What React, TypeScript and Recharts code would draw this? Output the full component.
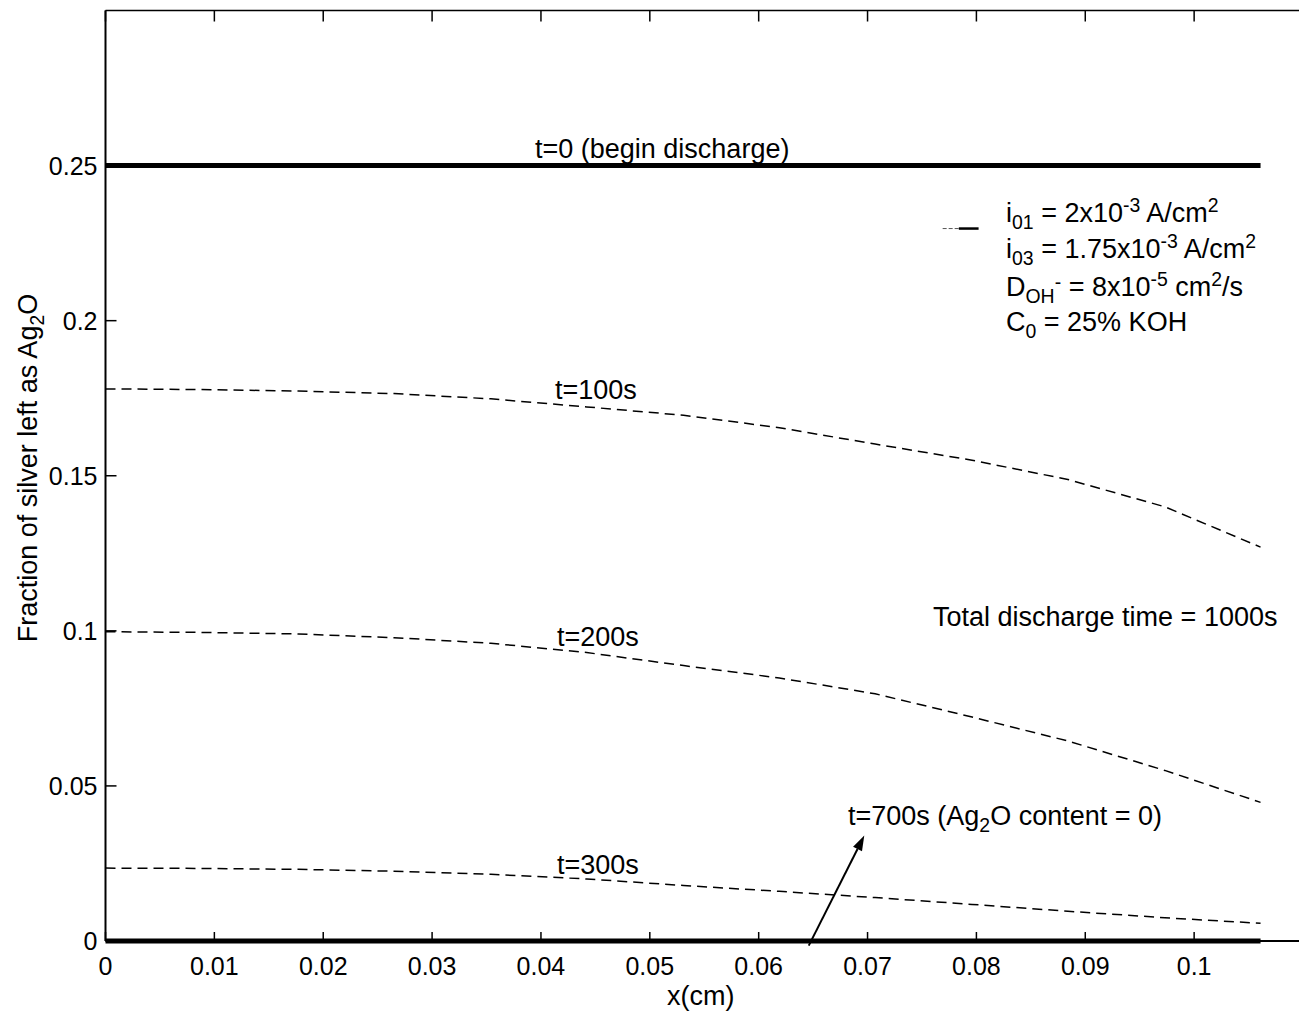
import React from "react";
import { LineChart, Line, XAxis, YAxis, ReferenceLine } from "recharts";

// x positions of the computed profiles (cm)
const xCm = [0, 0.0088, 0.0177, 0.0265, 0.0354, 0.0442, 0.0531, 0.0619, 0.0707, 0.0796, 0.0884, 0.0973, 0.1061];

// fraction of silver left as Ag2O at each time
const t0Begin = [0.25, 0.25, 0.25, 0.25, 0.25, 0.25, 0.25, 0.25, 0.25, 0.25, 0.25, 0.25, 0.25];
const t100s = [0.178, 0.1778, 0.1773, 0.1765, 0.1748, 0.1722, 0.1695, 0.1655, 0.1602, 0.155, 0.1488, 0.14, 0.127];
const t200s = [0.0997, 0.0995, 0.099, 0.0978, 0.096, 0.093, 0.0888, 0.0848, 0.0797, 0.0722, 0.0645, 0.055, 0.0447];
const t300s = [0.0235, 0.0234, 0.0231, 0.0225, 0.0215, 0.02, 0.0179, 0.016, 0.014, 0.0118, 0.0096, 0.0075, 0.0057];
const t700s = [0, 0, 0, 0, 0, 0, 0, 0, 0, 0, 0, 0, 0];

const xTicks = [0, 0.01, 0.02, 0.03, 0.04, 0.05, 0.06, 0.07, 0.08, 0.09, 0.1];
const yTicks = [0, 0.05, 0.1, 0.15, 0.2, 0.25];

// annotation arrow (data coords) pointing at the t=700s label
const arrow700 = [
  { x: 0.0646, y: -0.0015 },
  { x: 0.0697, y: 0.034 },
];
const paramPointer = [
  { x: 0.0769, y: 0.2297 },
  { x: 0.0802, y: 0.2297 },
];

const data = xCm.map((x, i) => ({
  x,
  t0: t0Begin[i],
  t100: t100s[i],
  t200: t200s[i],
  t300: t300s[i],
  t700: t700s[i],
}));

const FONT = "'Liberation Sans', Arial, Helvetica, sans-serif";
const fmt = (v: number) => String(Number(v.toFixed(2)));

function BottomTick({ x, y, payload }: any) {
  return (
    <g>
      <line x1={x} x2={x} y1={y} y2={y - 9} stroke="#000" strokeWidth={1.5} />
      <text x={x} y={y + 34} textAnchor="middle" fontSize={25} fontFamily={FONT} fill="#000">
        {fmt(payload.value)}
      </text>
    </g>
  );
}

function TopTick({ x, y }: any) {
  return <line x1={x} x2={x} y1={y} y2={y + 11} stroke="#000" strokeWidth={1.5} />;
}

function LeftTick({ x, y, payload }: any) {
  return (
    <g>
      <line x1={x} x2={x + 11} y1={y} y2={y} stroke="#000" strokeWidth={1.5} />
      <text x={x - 8} y={y + 9} textAnchor="end" fontSize={25} fontFamily={FONT} fill="#000">
        {fmt(payload.value)}
      </text>
    </g>
  );
}

function RightTick({ x, y }: any) {
  return <line x1={x} x2={x - 11} y1={y} y2={y} stroke="#000" strokeWidth={1.5} />;
}

function ArrowShape({ x1, y1, x2, y2 }: any) {
  const dx = x2 - x1;
  const dy = y2 - y1;
  const len = Math.sqrt(dx * dx + dy * dy) || 1;
  const ux = dx / len;
  const uy = dy / len;
  const head = 15;
  const half = 5;
  const bx = x2 - ux * head;
  const by = y2 - uy * head;
  return (
    <g>
      <line x1={x1} y1={y1} x2={bx} y2={by} stroke="#000" strokeWidth={2} />
      <polygon
        points={`${x2},${y2} ${bx - uy * half},${by + ux * half} ${bx + uy * half},${by - ux * half}`}
        fill="#000"
      />
    </g>
  );
}

function PointerShape({ x1, y1, x2, y2 }: any) {
  const mid = x1 + (x2 - x1) * 0.45;
  return (
    <g>
      <line x1={x1} y1={y1} x2={mid} y2={y2} stroke="#555" strokeWidth={1} strokeDasharray="4 2" />
      <line x1={mid} y1={y1} x2={x2} y2={y2} stroke="#000" strokeWidth={2.5} />
    </g>
  );
}

const Sub = ({ children }: { children: React.ReactNode }) => (
  <span style={{ fontSize: "0.72em", position: "relative", top: "0.35em" }}>{children}</span>
);
const Sup = ({ children }: { children: React.ReactNode }) => (
  <span style={{ fontSize: "0.72em", position: "relative", top: "-0.5em" }}>{children}</span>
);

function Note({ x, base, size = 27, children }: { x: number; base: number; size?: number; children: React.ReactNode }) {
  return (
    <div
      style={{
        position: "absolute",
        left: x,
        top: base - 0.8465 * size,
        fontSize: size,
        lineHeight: `${size}px`,
        fontFamily: FONT,
        whiteSpace: "nowrap",
        color: "#000",
      }}
    >
      {children}
    </div>
  );
}

export default function App() {
  return (
    <div
      style={{
        position: "absolute",
        left: 0,
        top: 0,
        width: 1299,
        height: 1016,
        overflow: "hidden",
        background: "#fff",
      }}
    >
      <LineChart width={1320} height={1016} data={data} margin={{ top: 0.5, right: 7, bottom: 0, left: 5.5 }}>
        <XAxis
          dataKey="x"
          type="number"
          domain={[0, 0.11]}
          ticks={xTicks}
          tickSize={0}
          tickMargin={0}
          tickLine={false}
          tick={BottomTick}
          height={75}
          axisLine={{ stroke: "#000", strokeWidth: 2 }}
        />
        <XAxis
          xAxisId="top"
          orientation="top"
          dataKey="x"
          type="number"
          domain={[0, 0.11]}
          ticks={xTicks}
          tickSize={0}
          tickMargin={0}
          tickLine={false}
          tick={TopTick}
          height={10}
          axisLine={{ stroke: "#000", strokeWidth: 1.5 }}
        />
        <YAxis
          type="number"
          domain={[0, 0.3]}
          ticks={yTicks}
          tickSize={0}
          tickMargin={0}
          tickLine={false}
          tick={LeftTick}
          width={100}
          axisLine={{ stroke: "#000", strokeWidth: 2 }}
        />
        <YAxis
          yAxisId="right"
          orientation="right"
          type="number"
          domain={[0, 0.3]}
          ticks={yTicks}
          tickSize={0}
          tickMargin={0}
          tickLine={false}
          tick={RightTick}
          width={10}
          axisLine={{ stroke: "#000", strokeWidth: 1.5 }}
        />
        <Line dataKey="t0" type="linear" stroke="#000" strokeWidth={5} dot={false} isAnimationActive={false} />
        <Line dataKey="t100" type="linear" stroke="#000" strokeWidth={1.5} strokeDasharray="10 6" dot={false} isAnimationActive={false} />
        <Line dataKey="t200" type="linear" stroke="#000" strokeWidth={1.5} strokeDasharray="10 6" dot={false} isAnimationActive={false} />
        <Line dataKey="t300" type="linear" stroke="#000" strokeWidth={1.5} strokeDasharray="10 6" dot={false} isAnimationActive={false} />
        <Line dataKey="t700" type="linear" stroke="#000" strokeWidth={5} dot={false} isAnimationActive={false} />
        <ReferenceLine segment={arrow700} ifOverflow="visible" shape={ArrowShape} />
        <ReferenceLine segment={paramPointer} ifOverflow="visible" shape={PointerShape} />
      </LineChart>

      <Note x={535} base={159}>t=0 (begin discharge)</Note>
      <Note x={555} base={400}>t=100s</Note>
      <Note x={557} base={647}>t=200s</Note>
      <Note x={557} base={875}>t=300s</Note>
      <Note x={848} base={826}>
        t=700s (Ag<Sub>2</Sub>O content = 0)
      </Note>
      <Note x={933} base={627}>Total discharge time = 1000s</Note>

      <Note x={1006} base={223}>
        i<Sub>01</Sub> = 2x10<Sup>-3</Sup> A/cm<Sup>2</Sup>
      </Note>
      <Note x={1006} base={259}>
        i<Sub>03</Sub> = 1.75x10<Sup>-3</Sup> A/cm<Sup>2</Sup>
      </Note>
      <Note x={1006} base={297}>
        D
        <Sub>
          OH<span style={{ position: "relative", top: "-0.7em" }}>-</span>
        </Sub>{" "}
        = 8x10<Sup>-5</Sup> cm<Sup>2</Sup>/s
      </Note>
      <Note x={1006} base={332}>
        C<Sub>0</Sub> = 25% KOH
      </Note>

      <Note x={667} base={1006}>x(cm)</Note>

      <div
        style={{
          position: "absolute",
          left: 29,
          top: 468,
          transform: "translate(-50%, -50%) rotate(-90deg)",
          fontSize: 27,
          lineHeight: "27px",
          fontFamily: FONT,
          whiteSpace: "nowrap",
          color: "#000",
        }}
      >
        Fraction of silver left as Ag<Sub>2</Sub>O
      </div>
    </div>
  );
}
